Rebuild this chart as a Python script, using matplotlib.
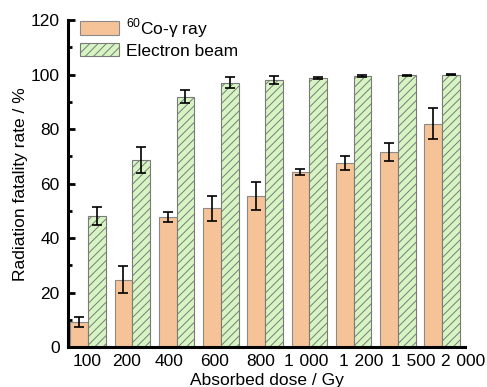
import matplotlib
matplotlib.use("Agg")
import matplotlib.pyplot as plt
import matplotlib.transforms as mtransforms
import numpy as np

plt.rcParams['font.family'] = ['Liberation Sans', 'DejaVu Sans']
plt.rcParams['mathtext.fontset'] = 'custom'
plt.rcParams['mathtext.rm'] = 'Liberation Sans'
plt.rcParams['hatch.color'] = '#4f8a3a'
plt.rcParams['hatch.linewidth'] = 0.7

categories = ["100", "200", "400", "600", "800",
              "1\u2004000", "1\u2004200", "1\u2004500", "2\u2004000"]
co_values = [9.3, 24.8, 47.8, 50.9, 55.5, 64.3, 67.6, 71.7, 81.9]
co_errors = [1.8, 4.8, 1.8, 4.6, 5.2, 1.2, 2.5, 3.3, 5.7]
eb_values = [48.0, 68.6, 91.9, 97.0, 98.0, 98.8, 99.5, 99.7, 100.0]
eb_errors = [3.3, 4.8, 2.4, 2.0, 1.5, 0.5, 0.3, 0.3, 0.2]
# horizontal shift (px) of each tick label relative to its tick, as in the reference
label_shift_px = [-1.3, -5.7, -8, -6, -4.3, -3.2, 7.5, 15.3, 21.3]

fig = plt.figure(figsize=(4.87, 3.87), dpi=100)
ax = fig.add_axes([0.14, 0.103, 0.815, 0.845])

x = np.arange(len(categories))
w = 0.4
ax.bar(x - w/2, co_values, w, color='#f5c397', edgecolor='#8a8a8a', linewidth=0.8,
       label=r'$^{60}$Co-γ ray', zorder=2)
ax.bar(x + w/2, eb_values, w, color='#d6f5c2', edgecolor='#7a7a7a', linewidth=0.8,
       hatch='////', label='Electron beam', zorder=2)
ax.errorbar(x - w/2, co_values, yerr=co_errors, fmt='none', ecolor='black',
            elinewidth=1.2, capsize=3.5, capthick=1.2, zorder=3)
ax.errorbar(x + w/2, eb_values, yerr=eb_errors, fmt='none', ecolor='black',
            elinewidth=1.2, capsize=3.5, capthick=1.2, zorder=3)

ax.set_xlim(-0.45, 8.52)
ax.set_ylim(0, 120)
ax.set_xticks(x)
ax.set_xticklabels(categories)
ax.set_yticks(np.arange(0, 121, 20))
ax.set_yticks(np.arange(0, 121, 10), minor=True)

for s in ['top', 'right']:
    ax.spines[s].set_visible(False)
for s in ['left', 'bottom']:
    ax.spines[s].set_linewidth(2.2)

ax.tick_params(axis='both', which='major', direction='in', length=5, width=2)
ax.tick_params(axis='y', which='major', pad=6, labelsize=12.5)
ax.tick_params(axis='x', which='major', pad=5, labelsize=12.5)
ax.tick_params(axis='y', which='minor', direction='in', length=3, width=2)
ax.tick_params(axis='x', which='minor', bottom=False)

for lab, dx in zip(ax.get_xticklabels(), label_shift_px):
    lab.set_transform(lab.get_transform() +
                      mtransforms.ScaledTranslation(dx / 100, 0, fig.dpi_scale_trans))

ax.set_xlabel('Absorbed dose / Gy', fontsize=12.5, labelpad=2.5)
ax.set_ylabel('Radiation fatality rate / %', fontsize=12.5, labelpad=2)

ax.legend(loc='upper left', bbox_to_anchor=(0.0, 1.05), frameon=False, fontsize=12.5,
          handlelength=2.2, handleheight=0.8, handletextpad=0.45, labelspacing=0.2,
          borderaxespad=0.3)

fig.savefig('out.png', dpi=100)
